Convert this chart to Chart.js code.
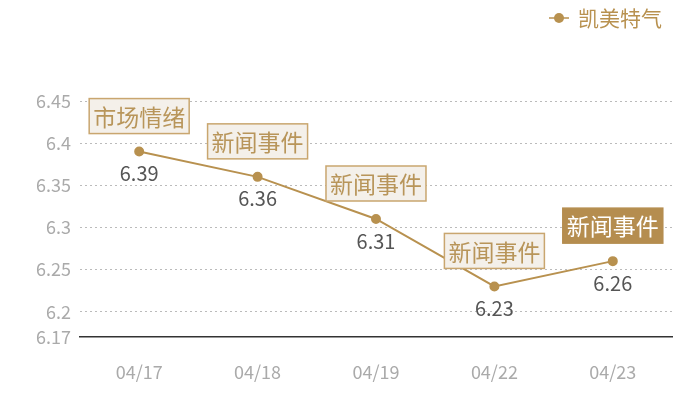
<!DOCTYPE html>
<html>
<head>
<meta charset="utf-8">
<script src="https://cdn.jsdelivr.net/npm/chart.js@4/dist/chart.umd.min.js"></script>
<style>
  html, body { margin: 0; padding: 0; background: #fff; }
  #wrap { width: 700px; height: 400px; }
</style>
</head>
<body>
<div id="wrap"><canvas id="chart"></canvas></div>
<script>
const dates = ['04/17', '04/18', '04/19', '04/22', '04/23'];
const prices = [6.39, 6.36, 6.31, 6.23, 6.26];
const eventLabels = ['市场情绪', '新闻事件', '新闻事件', '新闻事件', '新闻事件'];
const yTicks = [6.17, 6.2, 6.25, 6.3, 6.35, 6.4, 6.45];
const seriesName = '凯美特气';

const GOLD = '#b8914f';
const FONT = '"Noto Sans CJK SC", "Noto Sans", sans-serif';

// draws the event boxes, value labels and the legend
const annotate = {
    id: 'annotate',
    afterDatasetsDraw(chart) {
        const ctx = chart.ctx;
        const meta = chart.getDatasetMeta(0);
        ctx.save();
        meta.data.forEach((pt, i) => {
            // value under the point
            ctx.font = '20px ' + FONT;
            ctx.fillStyle = '#555';
            ctx.textAlign = 'center';
            ctx.textBaseline = 'middle';
            ctx.fillText(String(prices[i]), pt.x, pt.y + 22);

            // event tag above
            ctx.font = '23px ' + FONT;
            const w = ctx.measureText(eventLabels[i]).width + 8;
            const h = 35;
            const bx = pt.x - w / 2;
            const by = pt.y - 18 - h;
            const last = i === prices.length - 1;
            ctx.fillStyle = last ? '#b58d4f' : '#f4f0ea';
            ctx.fillRect(bx, by, w, h);
            ctx.strokeStyle = last ? '#b58d4f' : '#c9a66f';
            ctx.lineWidth = 1.5;
            ctx.strokeRect(bx, by, w, h);
            ctx.fillStyle = last ? '#fff' : '#b8955a';
            ctx.fillText(eventLabels[i], pt.x, by + h / 2 + 1);
        });

        // legend
        ctx.font = '21px ' + FONT;
        ctx.textAlign = 'left';
        ctx.textBaseline = 'middle';
        const ly = 18;
        ctx.strokeStyle = GOLD;
        ctx.lineWidth = 1.5;
        ctx.beginPath();
        ctx.moveTo(549, ly);
        ctx.lineTo(569, ly);
        ctx.stroke();
        ctx.fillStyle = GOLD;
        ctx.beginPath();
        ctx.arc(559, ly, 5, 0, Math.PI * 2);
        ctx.fill();
        ctx.fillText(seriesName, 578, ly);
        ctx.restore();
    }
};

new Chart(document.getElementById('chart'), {
    type: 'line',
    data: {
        labels: dates,
        datasets: [{
            label: seriesName,
            data: prices,
            borderColor: GOLD,
            backgroundColor: GOLD,
            borderWidth: 2,
            pointRadius: 4,
            pointHoverRadius: 4,
            tension: 0
        }]
    },
    options: {
        responsive: true,
        maintainAspectRatio: false,
        animation: false,
        layout: { padding: { top: 101, left: 27, right: 28, bottom: 0 } },
        plugins: {
            legend: { display: false },
            tooltip: { enabled: false }
        },
        scales: {
            x: {
                offset: true,
                grid: { display: false },
                border: { color: '#333', width: 1.5 },
                afterFit(scale) { scale.height = 63; },
                ticks: {
                    color: '#aaa',
                    padding: 16,
                    font: { family: FONT, size: 18 }
                }
            },
            y: {
                min: 6.17,
                max: 6.45,
                afterBuildTicks(scale) {
                    scale.ticks = yTicks.map(v => ({ value: v }));
                },
                border: { display: false, dash: [2, 3] },
                grid: {
                    color: c => c.tick && c.tick.value === 6.17 ? 'rgba(0,0,0,0)' : '#bbb',
                    lineWidth: 1,
                    drawTicks: false
                },
                ticks: {
                    color: '#aaa',
                    padding: 9,
                    font: { family: FONT, size: 18 },
                    callback: v => String(v)
                }
            }
        }
    },
    plugins: [annotate]
});
</script>
</body>
</html>
